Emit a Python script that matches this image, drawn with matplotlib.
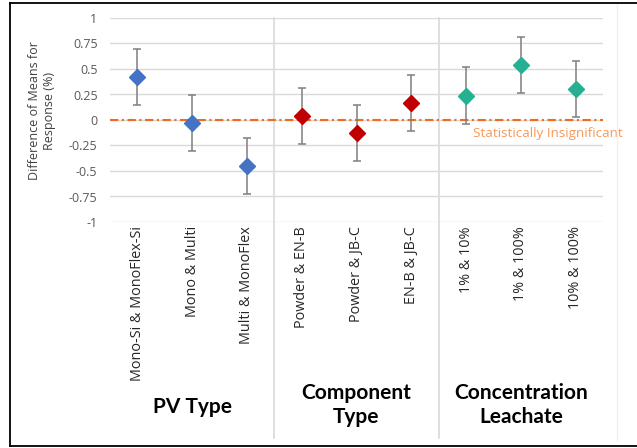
import numpy as np
import matplotlib
matplotlib.use("Agg")
import matplotlib.pyplot as plt
from matplotlib.lines import Line2D

# ── Data ──────────────────────────────────────────────────────────────────
pairs = ["Mono-Si & MonoFlex-Si", "Mono & Multi", "Multi & MonoFlex",
         "Powder & EN-B", "Powder & JB-C", "EN-B & JB-C",
         "1% & 10%", "1% & 100%", "10% & 100%"]
diff_means = [0.42, -0.03, -0.45, 0.04, -0.13, 0.17, 0.24, 0.54, 0.30]
err_half = [0.275, 0.275, 0.275, 0.275, 0.275, 0.275, 0.28, 0.275, 0.275]
groups = ["PV Type", "Component\nType", "Concentration\nLeachate"]
group_size = 3
group_colors = ["#4472C4", "#C00000", "#26B092"]
yticks = [1, 0.75, 0.5, 0.25, 0, -0.25, -0.5, -0.75, -1]
ytick_labels = ["1", "0.75", "0.5", "0.25", "0", "-0.25", "-0.5", "-0.75", "-1"]

W, H = 637, 448
fig = plt.figure(figsize=(W / 100, H / 100), dpi=100)
ax = fig.add_axes([110 / W, 1 - 222 / H, 493 / W, 204 / H])

x = np.arange(len(pairs))
cols = [group_colors[i // group_size] for i in range(len(pairs))]

# ── Error bars + diamonds ─────────────────────────────────────────────────
ax.errorbar(x, diff_means, yerr=err_half, fmt="none", ecolor="#7F7F7F",
            elinewidth=1.1, capsize=3, capthick=1.1, zorder=3)
for xi, yi, c in zip(x, diff_means, cols):
    ax.plot(xi, yi, marker="D", markersize=8.5, color=c, linestyle="none", zorder=4)

# ── Zero line ─────────────────────────────────────────────────────────────
ax.axhline(0, color="#F26B1D", linewidth=1.5, linestyle=(0, (4, 1.7, 1, 1.7)), zorder=2)
ax.text(6.12, -0.13, "Statistically Insignificant", color="#F79A5A", fontsize=9.7,
        family="Open Sans", va="center", ha="left", clip_on=False)

# ── Axes styling ──────────────────────────────────────────────────────────
ax.set_xlim(-0.5, len(pairs) - 0.5)
ax.set_ylim(-1, 1)
ax.set_yticks(yticks)
ax.set_yticklabels(ytick_labels, fontsize=9, color="#595959", family="Open Sans")
ax.set_xticks(x)
ax.set_xticklabels(pairs, rotation=90, fontsize=10.4, color="#262626", family="Open Sans")
ax.tick_params(axis="both", length=0)
ax.tick_params(axis="x", pad=3)
ax.tick_params(axis="y", pad=9)
ax.grid(axis="y", color="#D9D9D9", linewidth=1)
ax.set_axisbelow(True)
for s in ax.spines.values():
    s.set_visible(False)

# group separators running down through the label area
for g in range(1, len(groups)):
    sx = g * group_size - 0.5
    ax.plot([sx, sx], [1.0, -1.06], color="#D9D9D9", linewidth=1.2,
            transform=ax.get_xaxis_transform(), clip_on=False, zorder=1)

# group titles
gy = [407, 405, 405]
for g, name in enumerate(groups):
    cx = ax.transData.transform(((g * group_size + 1), 0))[0]
    fig.text(cx / W, 1 - gy[g] / H, name, ha="center", va="center",
             fontsize=15, fontweight="bold", family="Lato", linespacing=1.25)

# y label
fig.text(42 / W, 1 - 111 / H, "Difference of Means for\nResponse (%)", rotation=90,
         ha="center", va="center", fontsize=9, color="#404040", family="Open Sans",
         linespacing=1.2)

# outer frame (left, top, bottom) and faint chart border on the right
fig.add_artist(Line2D([10 / W, 10 / W], [1 - 3 / H, 1 - 446 / H], color="black", linewidth=1.3))
fig.add_artist(Line2D([10 / W, 1], [1 - 3 / H, 1 - 3 / H], color="black", linewidth=1.3))
fig.add_artist(Line2D([10 / W, 1], [1 - 446 / H, 1 - 446 / H], color="black", linewidth=1.3))
fig.add_artist(Line2D([617 / W, 617 / W], [1 - 5 / H, 1 - 440 / H], color="#F0F0F0", linewidth=1))

fig.savefig("out.png", dpi=100)
